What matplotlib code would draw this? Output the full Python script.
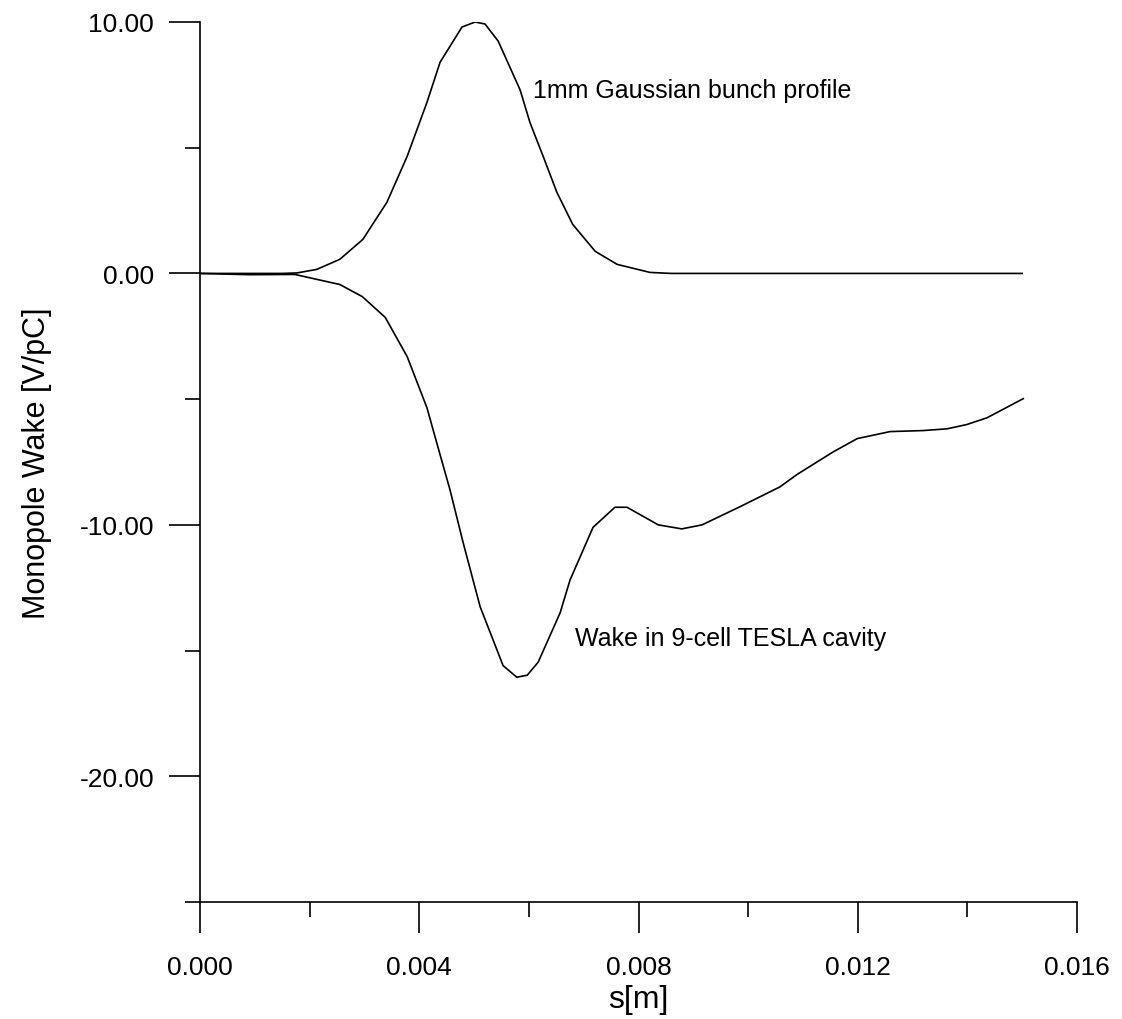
import matplotlib
matplotlib.use("Agg")
import matplotlib.pyplot as plt
from matplotlib.ticker import MultipleLocator, FormatStrFormatter

plt.rcParams['font.family'] = ['Liberation Sans', 'DejaVu Sans']

# bunch profile
s_bunch = [0.0, 0.0015, 0.00177, 0.00213, 0.00255, 0.00297, 0.00341, 0.00378,
           0.00414, 0.00438, 0.00478, 0.00502, 0.0052, 0.00544, 0.00584, 0.00602,
           0.00626, 0.00651, 0.0068, 0.00721, 0.00761, 0.00821, 0.0086, 0.015]
bunch = [0.0, 0.0, 0.02, 0.16, 0.56, 1.35, 2.83, 4.66,
         6.8, 8.4, 9.8, 10.0, 9.92, 9.24, 7.3, 6.0,
         4.66, 3.23, 1.95, 0.88, 0.36, 0.04, 0.0, 0.0]

# wake potential
s_wake = [0.0, 0.0009, 0.00173, 0.00255, 0.00296, 0.00338, 0.00378, 0.00414,
          0.00438, 0.00456, 0.0048, 0.00511, 0.00553, 0.00578, 0.00597, 0.00617,
          0.00657, 0.00675, 0.00717, 0.00757, 0.00779, 0.00836, 0.00879, 0.00916,
          0.00985, 0.01058, 0.01089, 0.01155, 0.01199, 0.01259, 0.01319, 0.01363,
          0.01399, 0.01436, 0.01502]
wake = [0.0, -0.05, -0.04, -0.44, -0.92, -1.75, -3.31, -5.34,
        -7.21, -8.6, -10.7, -13.25, -15.6, -16.06, -15.98, -15.46,
        -13.5, -12.2, -10.1, -9.3, -9.3, -10.0, -10.16, -10.0,
        -9.28, -8.49, -8.0, -7.1, -6.57, -6.29, -6.25, -6.18,
        -6.01, -5.74, -4.98]

fig = plt.figure(figsize=(11.22, 10.2), dpi=100)
ax = fig.add_axes([200/1122, 117/1020, 877/1122, 880/1020])

ax.plot(s_bunch, bunch, color='black', lw=1.2)
ax.plot(s_wake, wake, color='black', lw=1.2)

ax.set_xlim(0, 0.016)
ax.set_ylim(-25, 10)

ax.xaxis.set_major_locator(MultipleLocator(0.004))
ax.xaxis.set_minor_locator(MultipleLocator(0.002))
ax.xaxis.set_major_formatter(FormatStrFormatter('%.3f'))
ax.yaxis.set_major_locator(MultipleLocator(10))
ax.yaxis.set_minor_locator(MultipleLocator(5))
ax.yaxis.set_major_formatter(FormatStrFormatter('%.2f'))

for side in ['top', 'right']:
    ax.spines[side].set_visible(False)
for side in ['left', 'bottom']:
    ax.spines[side].set_linewidth(1.2)

ax.tick_params(which='major', direction='out', length=22, width=1.2, labelsize=19)
ax.tick_params(axis='x', which='major', pad=16)
ax.tick_params(axis='y', which='major', pad=11)
ax.tick_params(which='minor', direction='out', length=11, width=1.2)

ax.set_xlabel('s[m]', fontsize=23, labelpad=4)
ax.set_ylabel('Monopole Wake [V/pC]', fontsize=22, labelpad=20)

ax.text(0.00608, 7.3, '1mm Gaussian bunch profile', fontsize=18, va='center', ha='left')
ax.text(0.00685, -14.5, 'Wake in 9-cell TESLA cavity', fontsize=18, va='center', ha='left')

fig.savefig('out.png', dpi=100)
